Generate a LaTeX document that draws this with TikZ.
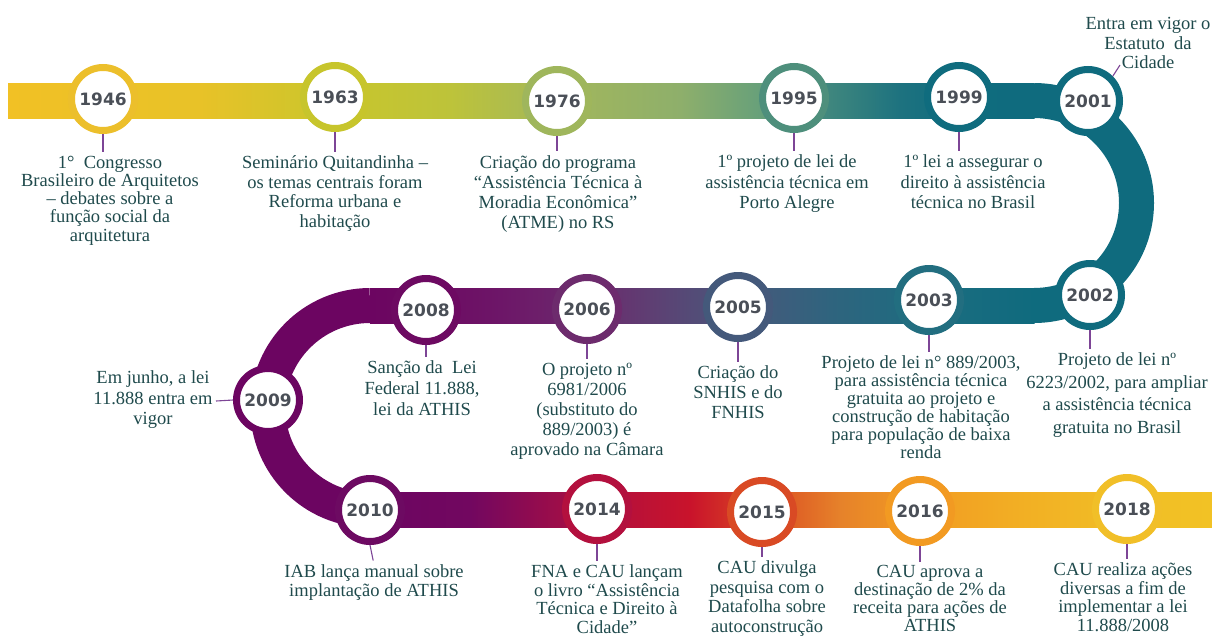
\documentclass[tikz,border=0pt]{standalone}
\usepackage{fontspec}
\setmainfont{Liberation Serif}
\newfontfamily\yearfont{DejaVu Sans}
\definecolor{yeartxt}{HTML}{4A4F57}
\definecolor{lbltxt}{HTML}{1F4A4C}
\definecolor{conncol}{HTML}{7D4596}
\definecolor{r1946}{HTML}{ECBF2B}
\definecolor{r1963}{HTML}{C7C52C}
\definecolor{r1976}{HTML}{9FB65C}
\definecolor{r1995}{HTML}{4E8F7C}
\definecolor{r1999}{HTML}{0F6C7E}
\definecolor{r2001}{HTML}{0F6B7E}
\definecolor{r2002}{HTML}{0F6B7E}
\definecolor{r2003}{HTML}{226E80}
\definecolor{r2005}{HTML}{44597B}
\definecolor{r2006}{HTML}{6D2B6D}
\definecolor{r2008}{HTML}{6D0A62}
\definecolor{r2009}{HTML}{6C0561}
\definecolor{r2010}{HTML}{6D0A62}
\definecolor{r2014}{HTML}{B3103E}
\definecolor{r2015}{HTML}{D94A24}
\definecolor{r2016}{HTML}{F29A22}
\definecolor{r2018}{HTML}{F1BF28}
% band stops
\definecolor{ta}{HTML}{F1C125}
\definecolor{tb}{HTML}{E8C228}
\definecolor{tc}{HTML}{C9C62C}
\definecolor{td}{HTML}{BDC33A}
\definecolor{te}{HTML}{A3B75B}
\definecolor{tf}{HTML}{8EAF6B}
\definecolor{tg}{HTML}{67A07A}
\definecolor{th}{HTML}{4D8F7D}
\definecolor{ti}{HTML}{1D727F}
\definecolor{tj}{HTML}{0F6C7E}
\definecolor{teal}{HTML}{0F6B7E}
\definecolor{ma}{HTML}{6C0561}
\definecolor{mb}{HTML}{6D0A62}
\definecolor{mc}{HTML}{6D1668}
\definecolor{md}{HTML}{6C2A6D}
\definecolor{me}{HTML}{5C4274}
\definecolor{mf}{HTML}{48587B}
\definecolor{mg}{HTML}{2F647E}
\definecolor{mh}{HTML}{1C6C80}
\definecolor{ba}{HTML}{720760}
\definecolor{bb}{HTML}{B0103F}
\definecolor{bc}{HTML}{C9132B}
\definecolor{bd}{HTML}{DA4A22}
\definecolor{be}{HTML}{E6822A}
\definecolor{bf}{HTML}{F29B22}
\definecolor{bg}{HTML}{F2AF24}
\definecolor{bh}{HTML}{F1BE26}
\definecolor{bi}{HTML}{F2C225}
\newcommand\bandseg[6]{\shade[left color=#5,right color=#6] (#3,#1) rectangle (#4+0.6,#2);}
\begin{document}
\begin{tikzpicture}[x=1pt,y=-1pt,
  yr/.style={circle, draw=#1, fill=white, line width=7pt, minimum size=63pt, inner sep=0pt, text=yeartxt, font=\yearfont\bfseries\fontsize{17}{17}\selectfont},
  lbl/.style={align=center, inner sep=0pt, anchor=north, text=lbltxt, font=\fontsize{18.5}{#1}\selectfont},
  lbl/.default=20,
  conn/.style={draw=conncol, line width=1.1pt, shorten >=4pt},
  bandline/.style={line width=35pt, draw=#1}]
\useasboundingbox (0,0) rectangle (1212,635);
\clip (0,0) rectangle (1212,635);
% top band
\bandseg{83}{118}{8}{200}{ta}{tb}
\bandseg{83}{118}{200}{335}{tb}{tc}
\bandseg{83}{118}{335}{450}{tc}{td}
\bandseg{83}{118}{450}{557}{td}{te}
\bandseg{83}{118}{557}{680}{te}{tf}
\bandseg{83}{118}{680}{760}{tf}{tg}
\bandseg{83}{118}{760}{800}{tg}{th}
\bandseg{83}{118}{800}{900}{th}{ti}
\bandseg{83}{118}{900}{958}{ti}{tj}
\bandseg{83}{118}{958}{1034}{tj}{teal}
% right arc
\draw[bandline=teal] (1034,100.5) arc[start angle=90, end angle=-90, radius=102.5pt];
% middle band
\bandseg{288}{323}{370}{425}{ma}{mb}
\bandseg{288}{323}{425}{500}{mb}{mc}
\bandseg{288}{323}{500}{587}{mc}{md}
\bandseg{288}{323}{587}{660}{md}{me}
\bandseg{288}{323}{660}{738}{me}{mf}
\bandseg{288}{323}{738}{830}{mf}{mg}
\bandseg{288}{323}{830}{929}{mg}{mh}
\bandseg{288}{323}{929}{1034}{mh}{teal}
% left arc
\draw[bandline=ma] (370,305.5) arc[start angle=90, end angle=270, radius=102.25pt];
% bottom band
\bandseg{492.5}{527.5}{370}{470}{ma}{ba}
\bandseg{492.5}{527.5}{470}{597}{ba}{bb}
\bandseg{492.5}{527.5}{597}{690}{bb}{bc}
\bandseg{492.5}{527.5}{690}{762}{bc}{bd}
\bandseg{492.5}{527.5}{762}{840}{bd}{be}
\bandseg{492.5}{527.5}{840}{918}{be}{bf}
\bandseg{492.5}{527.5}{918}{1020}{bf}{bg}
\bandseg{492.5}{527.5}{1020}{1126}{bg}{bh}
\bandseg{492.5}{527.5}{1126}{1212}{bh}{bi}

% labels
\node[lbl=18.3] (t1946) at (110,155.5) {1° ~Congresso\\Brasileiro de Arquitetos\\– debates sobre a\\função social da\\arquitetura};
\node[lbl=19.7] (t1963) at (335,155.5) {Seminário Quitandinha –\\os temas centrais foram\\Reforma urbana e\\habitação};
\node[lbl=20] (t1976) at (558,155) {Criação do programa\\“Assistência Técnica à\\Moradia Econômica”\\(ATME) no RS};
\node[lbl=20.5] (t1995) at (787,154.5) {1º projeto de lei de\\assistência técnica em\\Porto Alegre};
\node[lbl=20.5] (t1999) at (973,154.5) {1º lei a assegurar o\\direito à assistência\\técnica no Brasil};
\node[lbl=19.5] (t2001) at (1148,17.5) {Entra em vigor o\\Estatuto ~da\\Cidade};
\node[lbl=22.7] (t2002) at (1117,352.5) {Projeto de lei nº\\6223/2002, para ampliar\\a assistência técnica\\gratuita no Brasil};
\node[lbl=18] (t2003) at (921,355.5) {Projeto de lei n° 889/2003,\\para assistência técnica\\gratuita ao projeto e\\construção de habitação\\para população de baixa\\renda};
\node[lbl=20] (t2005) at (738,365.5) {Criação do\\SNHIS e do\\FNHIS};
\node[lbl=20] (t2006) at (587,362.5) {O projeto nº\\6981/2006\\(substituto do\\889/2003) é\\aprovado na Câmara};
\node[lbl=21] (t2008) at (422,360.5) {Sanção da ~Lei\\Federal 11.888,\\lei da ATHIS};
\node[lbl=20.5] (t2009) at (153,370.5) {Em junho, a lei\\11.888 entra em\\vigor};
\node[lbl=19] (t2010) at (374,564.5) {IAB lança manual sobre\\implantação de ATHIS};
\node[lbl=18.5] (t2014) at (607,564.5) {FNA e CAU lançam\\o livro “Assistência\\Técnica e Direito à\\Cidade”};
\node[lbl=19.5] (t2015) at (767,560.5) {CAU divulga\\pesquisa com o\\Datafolha sobre\\autoconstrução};
\node[lbl=18] (t2016) at (930,565.5) {CAU aprova a\\destinação de 2\% da\\receita para ações de\\ATHIS};
\node[lbl=18.5] (t2018) at (1123,562.5) {CAU realiza ações\\diversas a fim de\\implementar a lei\\11.888/2008};

% circles
\node[yr=r1946] (c1946) at (103,99) {1946};
\node[yr=r1963] (c1963) at (335,97) {1963};
\node[yr=r1976] (c1976) at (557,101) {1976};
\node[yr=r1995] (c1995) at (794,98) {1995};
\node[yr=r1999] (c1999) at (959,97) {1999};
\node[yr=r2001] (c2001) at (1088,101) {2001};
\node[yr=r2002] (c2002) at (1090,295) {2002};
\node[yr=r2003] (c2003) at (929,300) {2003};
\node[yr=r2005] (c2005) at (738,307) {2005};
\node[yr=r2006] (c2006) at (587,309) {2006};
\node[yr=r2008] (c2008) at (426,310) {2008};
\node[yr=r2009] (c2009) at (268,400) {2009};
\node[yr=r2010] (c2010) at (370,510) {2010};
\node[yr=r2014] (c2014) at (597,509) {2014};
\node[yr=r2015] (c2015) at (762,512) {2015};
\node[yr=r2016] (c2016) at (920,511) {2016};
\node[yr=r2018] (c2018) at (1127,509) {2018};

% connectors
\coordinate (e2001) at (1120,65);
\coordinate (e2009) at (216,401);
\begin{scope}[on background layer/.try]
\end{scope}
\foreach \y in {1946,1963,1976,1995,1999,2002,2003,2005,2006,2008,2014,2015,2016,2018}{
  \draw[conn] (c\y.south) -- (c\y.south |- t\y.north);
}
\draw[conn] (c2010.south) -- (t2010.north);
\draw[conn, shorten >=0pt] (c2001.north east) -- (e2001);
\draw[conn, shorten >=0pt] (c2009.west) -- (e2009);
\end{tikzpicture}
\end{document}
